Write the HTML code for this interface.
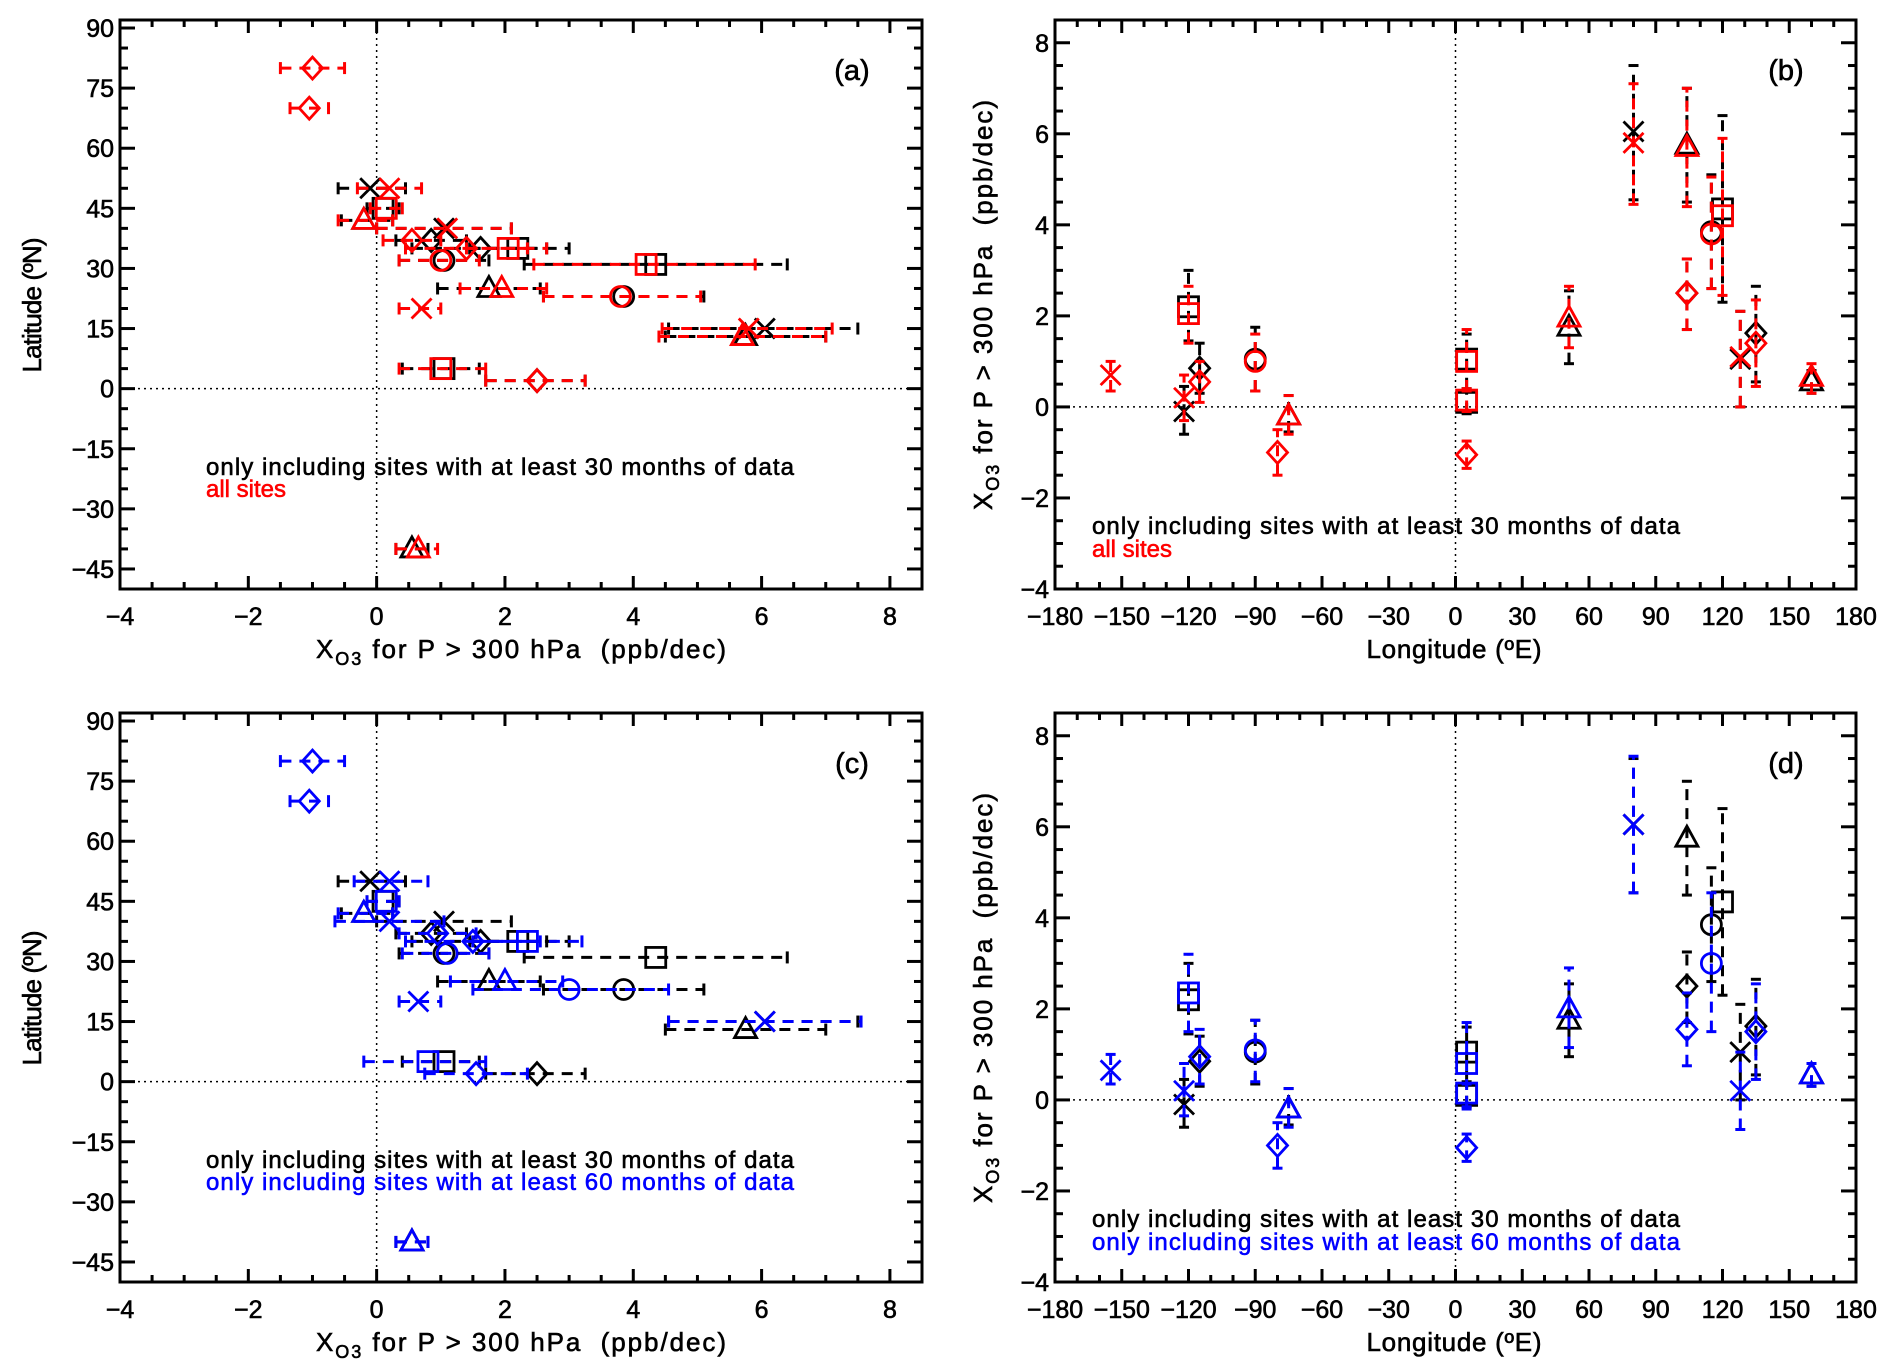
<!DOCTYPE html>
<html><head><meta charset="utf-8"><style>
html,body{margin:0;padding:0;background:#fff}
svg{display:block}
text{font-family:"Liberation Sans",sans-serif;stroke-width:0.6px}
</style></head><body>
<svg id="fig" width="1892" height="1372" viewBox="0 0 1892 1372" xmlns="http://www.w3.org/2000/svg"></svg>
<script>
// ---- data: one entry per site ----
const siteMarker = ['x','sq','tri','x','dia','dia','sq','circ','sq','tri','circ','x','x','tri','sq','dia','tri','dia','dia'];
const siteLat = [50,45,42,40,37,35,35,32,31,25,23,20,15,13,5,2,-40,80,70];
const siteLon = [-122,5,-75,128,-115,135,-120,-90,120,51,115,-155,80,104,5,104,160,-80,5];
// black: sites with >= 30 months of data
const blackVal = [-0.1,0.1,-0.2,1.05,0.85,1.62,2.2,1.05,4.35,1.75,3.85,null,6.05,5.75,1.05,2.5,0.55,null,null];
const blackLo  = [-0.6,-0.15,-0.55,0,0.3,0.55,1.45,0.35,2.3,0.95,2.6,null,4.55,4.5,0.4,1.7,0.3,null,null];
const blackHi  = [0.45,0.35,0.25,2.1,1.4,2.65,3.0,1.75,6.4,2.55,5.1,null,7.5,7.0,1.6,3.25,0.8,null,null];
// red: all sites
const redVal = [0.2,0.15,-0.2,1.1,0.55,1.4,2.05,1.0,4.2,1.95,3.8,0.7,5.8,5.7,1.0,2.5,0.65,-1.0,-1.05];
const redLo  = [-0.3,-0.1,-0.6,0,0.1,0.45,1.4,0.35,2.45,1.3,2.6,0.35,4.45,4.4,0.35,1.7,0.3,-1.5,-1.35];
const redHi  = [0.7,0.4,0.25,2.1,1.0,2.35,2.65,1.6,5.9,2.65,5.05,1.0,7.1,7.0,1.7,3.25,0.95,-0.5,-0.75];
// blue: sites with >= 60 months of data
const blueVal = [0.2,0.15,-0.2,0.2,0.95,1.5,2.35,1.1,null,2.0,3.0,0.65,6.05,null,0.8,1.55,0.55,-1.0,-1.05];
const blueLo  = [-0.35,-0.15,-0.6,-0.65,0.35,0.45,1.5,0.4,null,1.15,1.5,0.35,4.55,null,-0.2,0.75,0.3,-1.5,-1.35];
const blueHi  = [0.8,0.35,0.25,1.05,1.55,2.55,3.2,1.75,null,2.9,4.55,1.0,7.55,null,1.7,2.35,0.8,-0.5,-0.75];
// axis tick labels
const trendTicks = [-4,-2,0,2,4,6,8];
const latTicks = [90,75,60,45,30,15,0,-15,-30,-45];
const lonTicks = [-180,-150,-120,-90,-60,-30,0,30,60,90,120,150,180];
const yTrendTicks = [8,6,4,2,0,-2,-4];

const NS='http://www.w3.org/2000/svg';
const svg=document.getElementById('fig');
function mk(tag,attrs,parent){const e=document.createElementNS(NS,tag);for(const k in attrs)e.setAttribute(k,attrs[k]);(parent||svg).appendChild(e);return e;}

function makePanel(id,x0,x1,y0,y1,xmin,xmax,ymin,ymax){
  const g=mk('g',{});
  
  
  return {g,x0,x1,y0,y1,
    sx:v=>x0+(v-xmin)/(xmax-xmin)*(x1-x0),
    sy:v=>y1-(v-ymin)/(ymax-ymin)*(y1-y0)};
}

function axes(P,xt,xminor,yt,yminor,xmin,xmax,ymin,ymax){
  const g=P.g;
  const zl1=mk('line',{x1:P.sx(0),x2:P.sx(0),y1:P.y0,y2:P.y1,stroke:'#000','stroke-width':1.5,'stroke-dasharray':'2,4'},g);
  
  
  const zl2=mk('line',{x1:P.x0,x2:P.x1,y1:P.sy(0),y2:P.sy(0),stroke:'#000','stroke-width':1.5,'stroke-dasharray':'2,4'},g);
  
  
  for(let v=Math.ceil(xmin/xminor)*xminor;v<=xmax+1e-9;v+=xminor){
    const major=xt.some(t=>Math.abs(t-v)<1e-6);const L=major?13:7;const X=P.sx(v);
    mk('line',{x1:X,x2:X,y1:P.y1,y2:P.y1-L,stroke:'#000','stroke-width':3},g);
    mk('line',{x1:X,x2:X,y1:P.y0,y2:P.y0+L,stroke:'#000','stroke-width':3},g);
  }
  for(let v=Math.ceil(ymin/yminor)*yminor;v<=ymax+1e-9;v+=yminor){
    const major=yt.some(t=>Math.abs(t-v)<1e-6);const L=major?15:8;const Y=P.sy(v);
    mk('line',{x1:P.x0,x2:P.x0+L,y1:Y,y2:Y,stroke:'#000','stroke-width':3},g);
    mk('line',{x1:P.x1,x2:P.x1-L,y1:Y,y2:Y,stroke:'#000','stroke-width':3},g);
  }
  const fr=mk('rect',{x:P.x0,y:P.y0,width:P.x1-P.x0,height:P.y1-P.y0,fill:'none',stroke:'#000','stroke-width':3},g);
  
  
  xt.forEach(t=>{
    const tx=mk('text',{x:P.sx(t),y:P.y1+36,'text-anchor':'middle','font-size':25,stroke:'#000'},g);
    
    
    tx.textContent=String(t).replace('-','\u2212');
  });
  yt.forEach(t=>{
    const tx=mk('text',{x:P.x0-6,y:P.sy(t)+9,'text-anchor':'end','font-size':25,stroke:'#000'},g);
    
    
    tx.textContent=String(t).replace('-','\u2212');
  });
}

function marker(g,type,cx,cy,color){
  const a={fill:'none',stroke:color,'stroke-width':2.8};
  let e;
  if(type==='sq') e=mk('rect',Object.assign({x:cx-10,y:cy-10,width:20,height:20},a),g);
  else if(type==='circ') e=mk('circle',Object.assign({cx,cy,r:10},a),g);
  else if(type==='tri') e=mk('polygon',Object.assign({points:`${cx},${cy-12} ${cx-11},${cy+8} ${cx+11},${cy+8}`},a),g);
  else if(type==='dia') e=mk('polygon',Object.assign({points:`${cx},${cy-11} ${cx+10},${cy} ${cx},${cy+11} ${cx-10},${cy}`},a),g);
  else e=mk('path',Object.assign({d:`M${cx-10},${cy-10}L${cx+10},${cy+10}M${cx-10},${cy+10}L${cx+10},${cy-10}`},a),g);
  
  
}

function series(P,vals,los,his,color,horizontal,name){
  const g=mk('g',{},P.g);
  
  
  vals.forEach((v,i)=>{
    if(v===null) return;
    let e;
    if(horizontal){
      const y=P.sy(siteLat[i]),xa=P.sx(los[i]),xb=P.sx(his[i]);
      e=mk('line',{x1:xa,x2:xb,y1:y,y2:y,stroke:color,'stroke-width':3,'stroke-dasharray':'11,8'},g);
      mk('line',{x1:xa,x2:xa,y1:y-6,y2:y+6,stroke:color,'stroke-width':3},g);
      mk('line',{x1:xb,x2:xb,y1:y-6,y2:y+6,stroke:color,'stroke-width':3},g);
      marker(g,siteMarker[i],P.sx(v),y,color);
    } else {
      const x=P.sx(siteLon[i]),ya=P.sy(los[i]),yb=P.sy(his[i]);
      e=mk('line',{x1:x,x2:x,y1:ya,y2:yb,stroke:color,'stroke-width':3,'stroke-dasharray':'11,8'},g);
      mk('line',{x1:x-5,x2:x+5,y1:ya,y2:ya,stroke:color,'stroke-width':3},g);
      mk('line',{x1:x-5,x2:x+5,y1:yb,y2:yb,stroke:color,'stroke-width':3},g);
      marker(g,siteMarker[i],x,P.sy(v),color);
    }
    
    
  });
}

function txt(g,s,x,y,size,color,anchor,name,extra){
  const t=mk('text',Object.assign({x,y,'font-size':size,fill:color,stroke:color,'text-anchor':anchor||'start'},extra||{}),g);
  
  
  t.textContent=s;return t;
}
function xo3Label(g,x,y,rot){
  const t=mk('text',{x,y,'font-size':26,'text-anchor':'middle',stroke:'#000',textLength:410,transform:rot||''},g);
  
  
  const a=mk('tspan',{},t);a.textContent='X';
  const b=mk('tspan',{dy:7,'font-size':18},t);b.textContent='O3';
  const c=mk('tspan',{dy:-7},t);c.textContent=' for P > 300 hPa\u00a0\u00a0(ppb/dec)';
}

const L30='only including sites with at least 30 months of data';
function latPanel(id,dy,other,otherLo,otherHi,color,legend2,lab){
  const P=makePanel(id,120,922,20+dy,589+dy,-4,8.5,-50,92);
  axes(P,trendTicks,0.5,latTicks,5,-4,8.5,-50,92);
  series(P,blackVal,blackLo,blackHi,'#000',true,'series-30-months');
  series(P,other,otherLo,otherHi,color,true,'series-'+lab);
  txt(P.g,L30,206,475+dy,24,'#000','start','legend-30-months',{textLength:588});
  const l2=txt(P.g,legend2,206,497+dy,24,color,'start','legend-'+lab);
  if(legend2.length>20) l2.setAttribute('textLength',588);
  txt(P.g,'('+id.slice(-1)+')',852,80+dy,29,'#000','middle','panel-label');
  xo3Label(P.g,521,658+dy);
  txt(P.g,'Latitude (\u00baN)',0,0,26,'#000','middle','y-axis-title',{transform:`translate(41,${305+dy}) rotate(-90)`,textLength:135});
}
function lonPanel(id,dy,other,otherLo,otherHi,color,legend2,lab){
  const P=makePanel(id,1055,1856,20+dy,589+dy,-180,180,-4,8.5);
  axes(P,lonTicks,10,yTrendTicks,0.5,-180,180,-4,8.5);
  series(P,blackVal,blackLo,blackHi,'#000',false,'series-30-months');
  series(P,other,otherLo,otherHi,color,false,'series-'+lab);
  txt(P.g,L30,1092,534+dy,24,'#000','start','legend-30-months',{textLength:588});
  const l2=txt(P.g,legend2,1092,557+dy,24,color,'start','legend-'+lab);
  if(legend2.length>20) l2.setAttribute('textLength',588);
  txt(P.g,'('+id.slice(-1)+')',1786,80+dy,29,'#000','middle','panel-label');
  txt(P.g,'Longitude (\u00baE)',1454,658+dy,26,'#000','middle','x-axis-title',{textLength:175});
  xo3Label(P.g,0,0,`translate(992,${305+dy}) rotate(-90)`);
}
latPanel('panel-a',0,redVal,redLo,redHi,'#ff0000','all sites','all-sites');
lonPanel('panel-b',0,redVal,redLo,redHi,'#ff0000','all sites','all-sites');
const L60='only including sites with at least 60 months of data';
latPanel('panel-c',693,blueVal,blueLo,blueHi,'#0000ff',L60,'60-months');
lonPanel('panel-d',693,blueVal,blueLo,blueHi,'#0000ff',L60,'60-months');
</script>
</body></html>
